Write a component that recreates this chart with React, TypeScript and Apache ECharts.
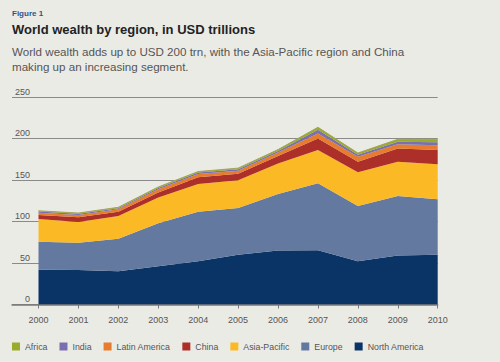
import React, { useEffect, useRef } from "react";
import * as echarts from "echarts";

const years = ["2000", "2001", "2002", "2003", "2004", "2005", "2006", "2007", "2008", "2009", "2010"];
const northAmerica = [42, 41.5, 40, 46, 52, 60, 65, 65.5, 52, 59, 60];
const europe = [33.5, 33, 39.3, 51.8, 59.8, 56.3, 68, 80.5, 66.7, 71.7, 66.7];
const asiaPacific = [27.5, 25, 27.3, 31, 33.4, 33.3, 37, 40, 40.6, 41.3, 42.3];
const china = [4.8, 5.6, 5.2, 6, 8.1, 8, 9, 14, 12.7, 16, 17];
const latinAmerica = [2.8, 2.8, 2.9, 4.1, 3.9, 3.5, 4, 6, 6, 5, 6];
const india = [1.3, 1.3, 1.4, 1.5, 1.7, 1.8, 2, 4.5, 2.5, 3, 3.5];
const africa = [1, 1, 1, 1.2, 1.3, 1.4, 1.6, 3, 2, 3, 3.5];

const seriesDefs = [
  { name: "North America", data: northAmerica, color: "#0b3466" },
  { name: "Europe", data: europe, color: "#64799f" },
  { name: "Asia-Pacific", data: asiaPacific, color: "#fbba25" },
  { name: "China", data: china, color: "#ad2f29" },
  { name: "Latin America", data: latinAmerica, color: "#e77b2e" },
  { name: "India", data: india, color: "#7a70b0" },
  { name: "Africa", data: africa, color: "#9aaa2a" },
];
const legendOrder = ["Africa", "India", "Latin America", "China", "Asia-Pacific", "Europe", "North America"];

const FONT = "'Liberation Sans', Arial, sans-serif";

export default function App() {
  const ref = useRef<HTMLDivElement>(null);
  useEffect(() => {
    if (!ref.current) return;
    const chart = echarts.init(ref.current, null, { renderer: "svg" });
    chart.setOption({
      animation: false,
      backgroundColor: "#ebebe6",
      textStyle: { fontFamily: FONT },
      graphic: [
        { type: "text", left: 12, top: 9, style: { text: "Figure 1", fontSize: 8, fontWeight: "bold", fill: "#2a5592", fontFamily: FONT } },
        { type: "text", left: 12, top: 23, style: { text: "World wealth by region, in USD trillions", fontSize: 13, fontWeight: "bold", fill: "#222222", fontFamily: FONT } },
        { type: "text", left: 12, top: 44, style: { text: "World wealth adds up to USD 200 trn, with the Asia-Pacific region and China\nmaking up an increasing segment.", fontSize: 11.6, lineHeight: 15, fill: "#555555", fontFamily: FONT } },
      ],
      legend: {
        data: legendOrder,
        left: 7,
        top: 337,
        icon: "rect",
        itemWidth: 8,
        itemHeight: 8,
        itemGap: 12,
        textStyle: { fontSize: 8.8, color: "#555", fontFamily: FONT },
      },
      grid: [
        { left: 12, right: 62.3, top: 97, bottom: 57.5, containLabel: false },
        { left: 38.5, right: 62.3, top: 97, bottom: 57.5, containLabel: false },
      ],
      xAxis: [
        {
          gridIndex: 0,
          type: "value",
          min: 0,
          max: 1,
          axisLine: { show: true, lineStyle: { color: "#7a7a7a", width: 1.5 } },
          axisTick: { show: false },
          axisLabel: { show: false },
          splitLine: { show: false },
        },
        {
          gridIndex: 1,
          type: "category",
          data: years,
          boundaryGap: false,
          axisLine: { show: false },
          axisTick: { show: true, length: 4, inside: false, lineStyle: { color: "#7a7a7a" } },
          axisLabel: { fontSize: 9, color: "#555", margin: 11 },
          splitLine: { show: false },
        },
      ],
      yAxis: [
        {
          gridIndex: 0,
          type: "value",
          min: 0,
          max: 250,
          interval: 50,
          axisLine: { show: false },
          axisTick: { show: false },
          axisLabel: {
            inside: true,
            align: "right",
            margin: 18,
            verticalAlign: "bottom",
            padding: [0, 0, 1, 0],
            fontSize: 9,
            color: "#555",
          },
          splitLine: { show: true, lineStyle: { color: "#8a8a8a", width: 1 } },
        },
        {
          gridIndex: 1,
          type: "value",
          min: 0,
          max: 250,
          interval: 50,
          axisLine: { show: false },
          axisTick: { show: false },
          axisLabel: { show: false },
          splitLine: { show: false },
        },
      ],
      series: seriesDefs.map((s) => ({
        name: s.name,
        type: "line",
        xAxisIndex: 1,
        yAxisIndex: 1,
        stack: "total",
        symbol: "none",
        itemStyle: { color: s.color },
        lineStyle: { width: s.name === "Africa" ? 1 : 0, color: s.name === "Africa" ? "#a3a45a" : s.color },
        areaStyle: { color: s.color, opacity: 1 },
        data: s.data,
      })),
    });
    return () => chart.dispose();
  }, []);
  return <div ref={ref} style={{ position: "absolute", left: 0, top: 0, width: 500, height: 362 }} />;
}
